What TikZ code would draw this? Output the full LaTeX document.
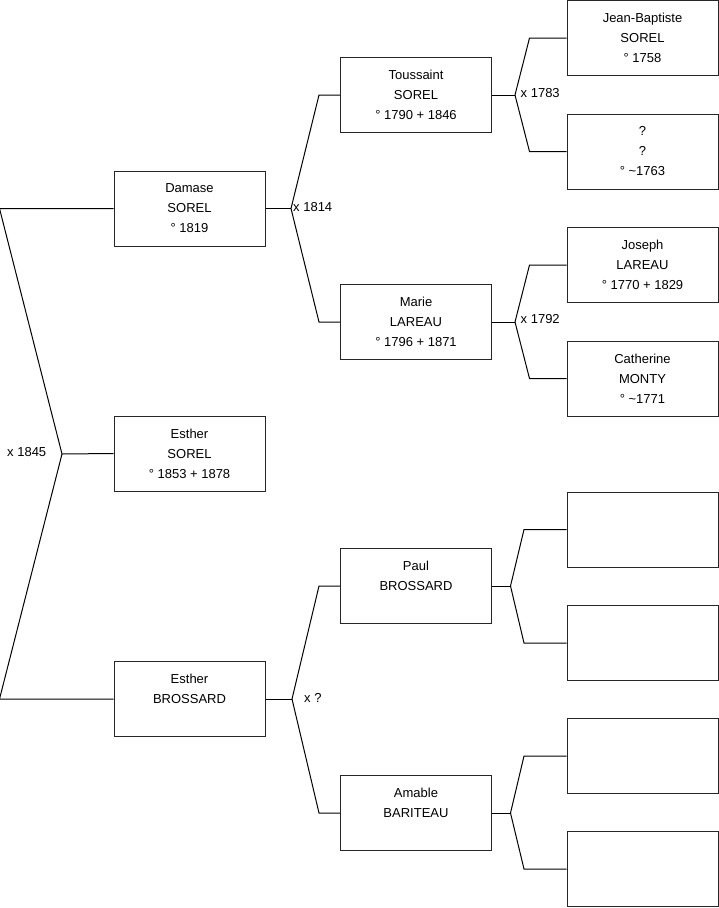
\documentclass[tikz,border=0pt]{standalone}
\usepackage{fontspec}
\setsansfont{Liberation Sans}
\usetikzlibrary{calc}

\begin{document}
\begin{tikzpicture}[
  x=1pt, y=-1pt,
  font=\sffamily\fontsize{13}{20}\selectfont,
  person/.style={
    draw=black!85,
    line width=1pt,
    align=center,
    minimum width=151pt,
    minimum height=75pt,
    inner sep=0pt
  },
  link/.style={line width=1pt, draw=black},
  union/.style={anchor=west, inner sep=0pt}
]
\useasboundingbox (0,0) rectangle (719,908);

% generation 1
\node[person] (esther) at (189.5,453.5) {Esther\\SOREL\\° 1853 + 1878};

% generation 2
\node[person] (damase) at (189.5,208.5) {Damase\\SOREL\\° 1819};
\node[person] (estherb) at (189.5,699) {Esther\\BROSSARD\\\mbox{}};

% generation 3
\node[person] (toussaint) at (416,95) {Toussaint\\SOREL\\° 1790 + 1846};
\node[person] (marie) at (416,322) {Marie\\LAREAU\\° 1796 + 1871};
\node[person] (paul) at (416,586) {Paul\\BROSSARD\\\mbox{}};
\node[person] (amable) at (416,813) {Amable\\BARITEAU\\\mbox{}};

% generation 4
\node[person] (jbaptiste) at (642.5,38) {Jean-Baptiste\\SOREL\\° 1758};
\node[person] (unknown) at (642.5,151.5) {?\\?\\° \textasciitilde1763};
\node[person] (joseph) at (642.5,265) {Joseph\\LAREAU\\° 1770 + 1829};
\node[person] (catherine) at (642.5,378.5) {Catherine\\MONTY\\° \textasciitilde1771};
\node[person] (pfather) at (642.5,529.5) {};
\node[person] (pmother) at (642.5,643) {};
\node[person] (afather) at (642.5,756) {};
\node[person] (amother) at (642.5,869) {};

% marriages
\coordinate (m1845) at (62,454);
\coordinate (m1814) at (291,208.5);
\coordinate (mbrossard) at (292,699);
\coordinate (m1783) at (515,95);
\coordinate (m1792) at (515,322);
\coordinate (mpaul) at (510.5,586);
\coordinate (mamable) at (510.5,813);

\draw[link] (esther.west) -- (m1845);
\draw[link] (damase.west) -- ++(-114,0) -- (m1845);
\draw[link] (estherb.west) -- ++(-114,0) -- (m1845);

\draw[link] (damase.east) -- (m1814);
\draw[link] (toussaint.west) -- ++(-21,0) -- (m1814);
\draw[link] (marie.west) -- ++(-21,0) -- (m1814);

\draw[link] (estherb.east) -- (mbrossard);
\draw[link] (paul.west) -- ++(-21,0) -- (mbrossard);
\draw[link] (amable.west) -- ++(-21,0) -- (mbrossard);

\draw[link] (toussaint.east) -- (m1783);
\draw[link] (jbaptiste.west) -- ++(-37,0) -- (m1783);
\draw[link] (unknown.west) -- ++(-37,0) -- (m1783);

\draw[link] (marie.east) -- (m1792);
\draw[link] (joseph.west) -- ++(-37,0) -- (m1792);
\draw[link] (catherine.west) -- ++(-37,0) -- (m1792);

\draw[link] (paul.east) -- (mpaul);
\draw[link] (pfather.west) -- ++(-42.5,0) -- (mpaul);
\draw[link] (pmother.west) -- ++(-42.5,0) -- (mpaul);

\draw[link] (amable.east) -- (mamable);
\draw[link] (afather.west) -- ++(-42.5,0) -- (mamable);
\draw[link] (amother.west) -- ++(-42.5,0) -- (mamable);

\node[union] (u1845) at (7,452) {x 1845};
\node[union] (u1814) at (293,207.5) {x 1814};
\node[union] (ubrossard) at (304,698) {x ?};
\node[union] (u1783) at (520.5,93) {x 1783};
\node[union] (u1792) at (520.5,319.5) {x 1792};

\end{tikzpicture}
\end{document}
